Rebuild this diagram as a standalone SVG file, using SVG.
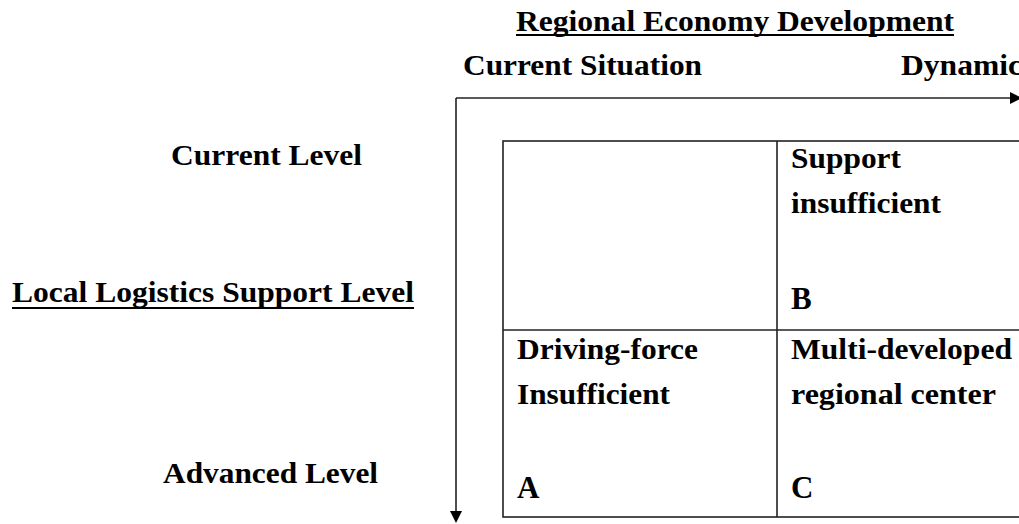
<svg xmlns="http://www.w3.org/2000/svg" width="1019" height="524" viewBox="0 0 1019 524">
<style>
text{font-family:"Liberation Serif","Times New Roman",serif;font-weight:bold;font-size:29px;fill:#000}
.big{font-size:31px}
.ln{stroke:#222;stroke-width:1.6;fill:none}
.ul{stroke:#000;stroke-width:2}
.ah{fill:#000}
</style>
<rect width="1019" height="524" fill="#fff"/>
<g id="title">
<text x="516" y="31" textLength="438" lengthAdjust="spacingAndGlyphs">Regional Economy Development</text>
<line class="ul" x1="516" y1="35" x2="954" y2="35"/>
</g>
<g id="label-current-situation"><text x="463" y="75" textLength="239" lengthAdjust="spacingAndGlyphs">Current Situation</text></g>
<g id="label-dynamic"><text x="901" y="75" textLength="121" lengthAdjust="spacingAndGlyphs">Dynamic</text></g>
<g id="label-current-level"><text x="171" y="165" textLength="191" lengthAdjust="spacingAndGlyphs">Current Level</text></g>
<g id="label-local">
<text x="12" y="302" textLength="402" lengthAdjust="spacingAndGlyphs">Local Logistics Support Level</text>
<line class="ul" x1="12" y1="308" x2="414" y2="308"/>
</g>
<g id="label-advanced"><text x="163" y="483" textLength="215" lengthAdjust="spacingAndGlyphs">Advanced Level</text></g>
<g id="connectors">
<path class="ln" d="M456,98 H1012"/>
<polygon class="ah" points="1010,92 1022,98 1010,104"/>
<path class="ln" d="M456,98 V513"/>
<polygon class="ah" points="450,511 462,511 456,523"/>
</g>
<g id="matrix">
<rect class="ln" x="503" y="141" width="540" height="376"/>
<line class="ln" x1="777" y1="141" x2="777" y2="517"/>
<line class="ln" x1="503" y1="330" x2="1043" y2="330"/>
</g>
<g id="cell-B">
<text x="791" y="168" textLength="110" lengthAdjust="spacingAndGlyphs">Support</text>
<text x="791" y="213" textLength="150" lengthAdjust="spacingAndGlyphs">insufficient</text>
<text class="big" x="791" y="309">B</text>
</g>
<g id="cell-A">
<text x="517" y="359" textLength="181" lengthAdjust="spacingAndGlyphs">Driving-force</text>
<text x="517" y="404" textLength="153" lengthAdjust="spacingAndGlyphs">Insufficient</text>
<text class="big" x="517" y="498">A</text>
</g>
<g id="cell-C">
<text x="791" y="359" textLength="221" lengthAdjust="spacingAndGlyphs">Multi-developed</text>
<text x="791" y="404" textLength="205" lengthAdjust="spacingAndGlyphs">regional center</text>
<text class="big" x="791" y="498">C</text>
</g>
</svg>
